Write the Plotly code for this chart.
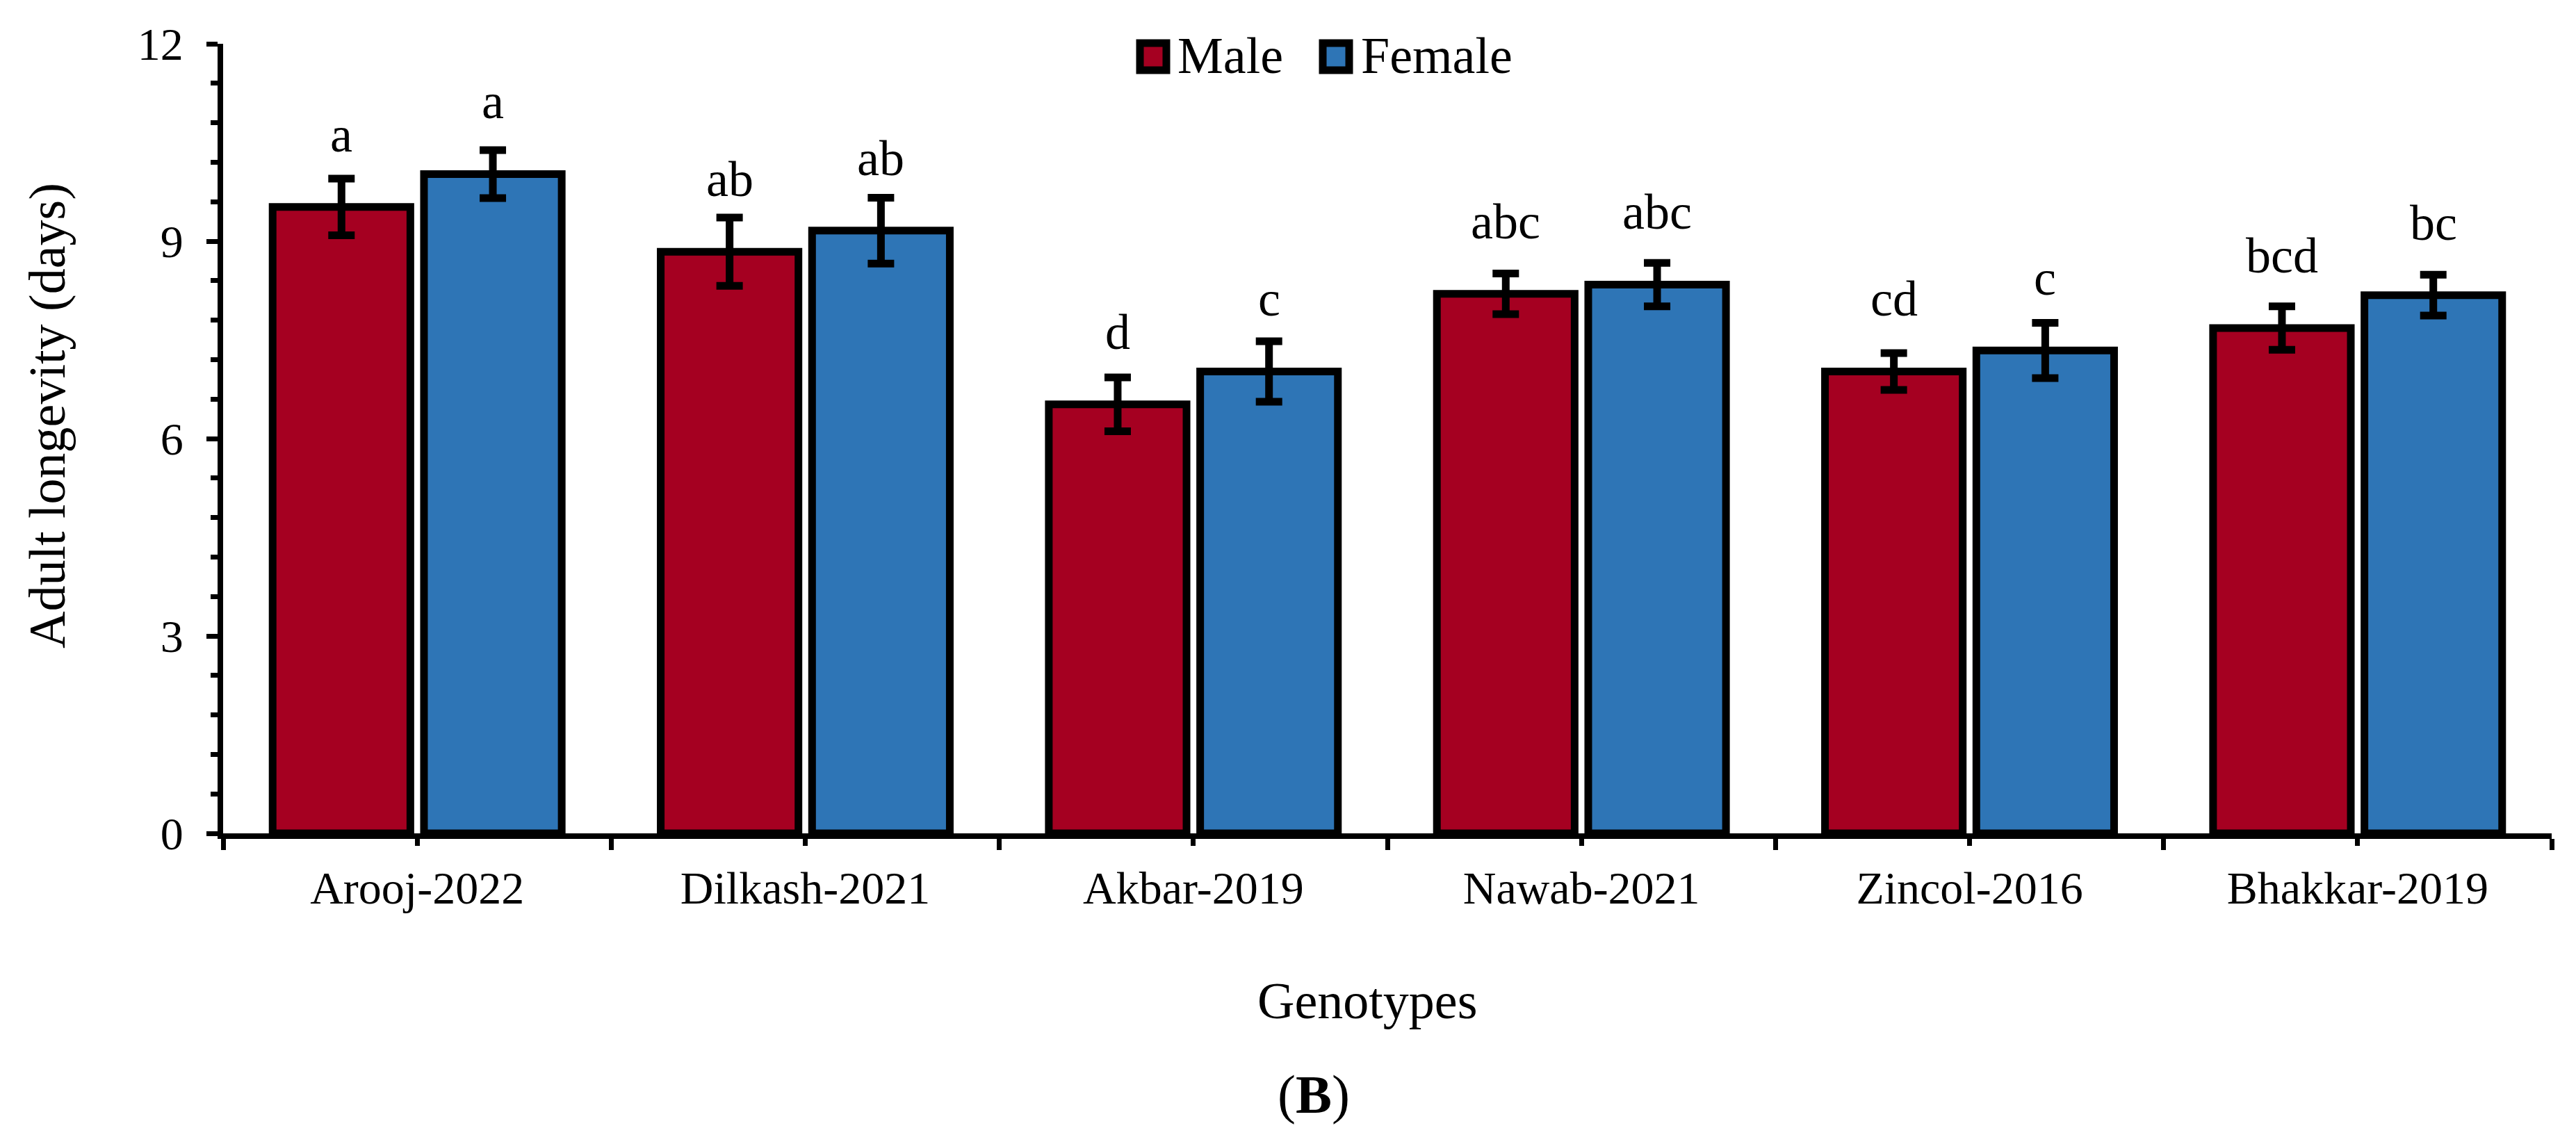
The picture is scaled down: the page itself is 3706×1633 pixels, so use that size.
import plotly.graph_objects as go

# ---------------- data ----------------
genotypes = ["Arooj-2022", "Dilkash-2021", "Akbar-2019", "Nawab-2021", "Zincol-2016", "Bhakkar-2019"]
male = [9.52, 8.84, 6.52, 8.20, 7.02, 7.68]
male_err = [0.43, 0.52, 0.41, 0.31, 0.28, 0.33]
female = [10.02, 9.16, 7.02, 8.34, 7.34, 8.18]
female_err = [0.365, 0.50, 0.46, 0.33, 0.42, 0.31]
male_letters = ["a", "ab", "d", "abc", "cd", "bcd"]
female_letters = ["a", "ab", "c", "abc", "c", "bc"]
series_names = ["Male", "Female"]
y_ticks = [0, 3, 6, 9, 12]

# ---------------- style ----------------
W, H = 3706, 1633
L, R, T, B = 313, 43, 55, 442
FONT = "Liberation Serif, Times New Roman, serif"
RED = "#A50021"
BLUE = "#2E75B6"
BARGAP = 0.22
GROUPGAP = 0.09

pw = W - L - R
ph = H - T - B


def px_x(px):
    return (px - L) / pw


def px_y(py):
    return (H - B - py) / ph


xpos = list(range(len(genotypes)))
off = (1 - BARGAP) / 4

fig = go.Figure()
for name, vals, errs, col in [(series_names[0], male, male_err, RED),
                              (series_names[1], female, female_err, BLUE)]:
    fig.add_trace(go.Bar(
        x=xpos, y=vals, name=name,
        marker=dict(color=col, line=dict(color="black", width=11)),
        error_y=dict(type="data", array=errs, visible=True, color="black",
                     thickness=11, width=19),
        showlegend=False,
    ))

annotations = []
for i in xpos:
    annotations.append(dict(x=i - off, y=male[i], xref="x", yref="y", text=male_letters[i],
                            showarrow=False, yanchor="bottom", yshift=62,
                            font=dict(family=FONT, size=72, color="black")))
    annotations.append(dict(x=i + off, y=female[i], xref="x", yref="y", text=female_letters[i],
                            showarrow=False, yanchor="bottom", yshift=62,
                            font=dict(family=FONT, size=72, color="black")))

# axis titles and panel label
annotations.append(dict(x=px_x(1959), y=px_y(1432), xref="paper", yref="paper", text="Genotypes",
                        showarrow=False, xanchor="center", yanchor="middle",
                        font=dict(family=FONT, size=74, color="black")))
annotations.append(dict(x=px_x(1882), y=px_y(1566), xref="paper", yref="paper", text="(<b>B</b>)",
                        showarrow=False, xanchor="center", yanchor="middle",
                        font=dict(family=FONT, size=78, color="black")))
annotations.append(dict(x=px_x(60), y=px_y(590), xref="paper", yref="paper",
                        text="Adult longevity (days)", textangle=-90,
                        showarrow=False, xanchor="center", yanchor="middle",
                        font=dict(family=FONT, size=74, color="black")))

# legend (drawn manually so the swatches match the reference size)
shapes = []
legend_items = [(series_names[0], RED, 1632, 1686), (series_names[1], BLUE, 1895, 1950)]
for name, col, sx, tx in legend_items:
    shapes.append(dict(type="rect", xref="paper", yref="paper",
                       x0=px_x(sx), x1=px_x(sx + 38), y0=px_y(93), y1=px_y(54),
                       fillcolor=col, line=dict(color="black", width=11), layer="above"))
    annotations.append(dict(x=px_x(tx - 2), y=px_y(72), xref="paper", yref="paper", text=name,
                            showarrow=False, xanchor="left", yanchor="middle",
                            font=dict(family=FONT, size=74, color="black")))

fig.update_layout(
    width=W, height=H,
    margin=dict(l=L, r=R, t=T, b=B, autoexpand=False),
    paper_bgcolor="white", plot_bgcolor="white",
    barmode="group", bargap=BARGAP, bargroupgap=GROUPGAP,
    annotations=annotations, shapes=shapes,
    showlegend=False,
    font=dict(family=FONT, color="black"),
)

fig.update_xaxes(
    range=[-0.5, len(genotypes) - 0.5],
    tickmode="array", tickvals=xpos, ticktext=genotypes,
    ticks="outside", ticklen=10, tickwidth=7, tickcolor="black",
    minor=dict(tickmode="array", tickvals=[i - 0.5 for i in range(len(genotypes) + 1)],
               ticks="outside", ticklen=16, tickwidth=7, tickcolor="black"),
    showline=True, linewidth=8, linecolor="black",
    showgrid=False, zeroline=False, automargin=False,
    tickfont=dict(family=FONT, size=66, color="black"),
    ticklabelstandoff=4,
)
fig.update_yaxes(
    range=[0, 12],
    tickmode="array", tickvals=y_ticks,
    ticks="outside", ticklen=16, tickwidth=7, tickcolor="black",
    minor=dict(dtick=0.6, tick0=0, ticks="outside", ticklen=10, tickwidth=7, tickcolor="black"),
    showline=True, linewidth=8, linecolor="black",
    showgrid=False, zeroline=False, automargin=False,
    tickfont=dict(family=FONT, size=66, color="black"),
    ticklabelstandoff=20,
)

fig.write_html("out.html")
